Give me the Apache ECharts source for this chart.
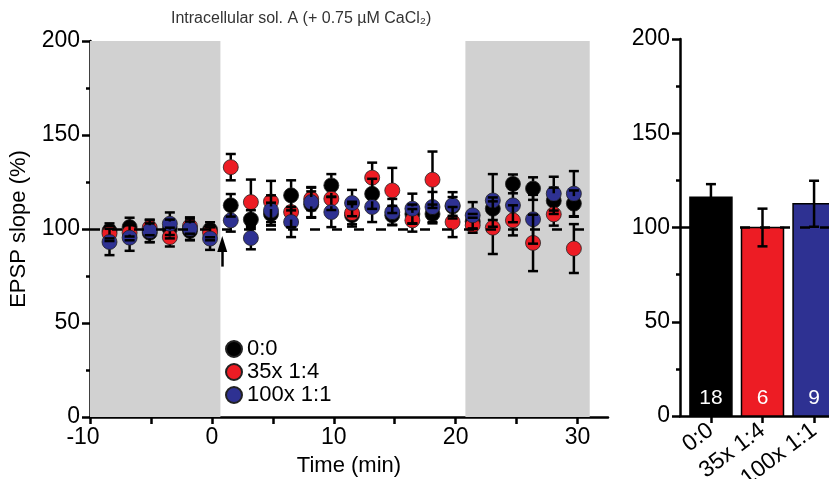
<!DOCTYPE html>
<html>
<head>
<meta charset="utf-8">
<script src="https://cdn.jsdelivr.net/npm/echarts@6/dist/echarts.min.js"></script>
<style>
  html, body { margin: 0; padding: 0; background: #fff; }
  #chart { width: 829px; height: 479px; }
</style>
</head>
<body>
<div id="chart"></div>
<script>
// time points (min)
var times = [-8.4, -6.75, -5.1, -3.45, -1.8, -0.15, 1.55, 3.2, 4.85, 6.5, 8.15, 9.8,
             11.5, 13.15, 14.8, 16.45, 18.1, 19.75, 21.4, 23.05, 24.7, 26.35, 28.05, 29.7];

// EPSP slope (%) per group, mean and SEM
var ctrl     = [99, 101, 98, 100, 99, 99.6, 112.6, 105, 108, 117.9, 113, 123.2,
                107.3, 118.7, 107.3, 108, 108, 112, 104, 110.8, 124, 121.5, 115, 113.5];
var ctrlErr  = [4, 5, 5, 5, 5, 4, 6, 5, 6, 8, 7, 6, 6, 8, 5, 5, 5, 5, 4, 6, 5, 6, 7, 7];
var mix14    = [97.6, 98, 100.7, 95.7, 101.5, 98, 132.9, 114.3, 114.6, 109, 116, 116.1,
                108.5, 127.3, 120.5, 104.6, 126.2, 103.7, 102, 100.7, 104.6, 92.6, 107.8, 89.6];
var mix14Err = [4, 4, 4, 5, 4, 4, 7, 12, 11, 8, 6, 6, 6, 8, 12, 6, 15, 8, 4, 14, 8, 15, 6, 13];
var mix11    = [93.1, 95.4, 99, 102.8, 100.2, 94.9, 104.6, 95.2, 109.9, 103.7, 114.3, 109,
                113.8, 111.7, 109, 110.8, 111.7, 112.6, 107.3, 115.2, 112.6, 105.2, 118.8, 118.8];
var mix11Err = [7, 7, 6, 6, 6, 6, 6, 6, 8, 8, 8, 8, 7, 8, 7, 8, 8, 7, 7, 14, 9, 13, 9, 12];

// summary bars
var groups   = ['0:0', '35x 1:4', '100x 1:1'];
var barMean  = [116, 100, 112.6];
var barErr   = [7, 10, 12.2];
var nCells   = ['18', '6', '9'];

var colors = ['#000000', '#ed1c24', '#2e3192'];
var FONT = 'Liberation Sans, Arial, sans-serif';

function pts(ys) { return times.map(function (t, i) { return [t, ys[i]]; }); }
function errPts(ys, es) { return times.map(function (t, i) { return [t, ys[i], es[i]]; }); }

function lineEl(s) {
    return {type: 'line', shape: s, style: {stroke: '#000', lineWidth: 2.5}};
}

var R = 7.5;
// error bars that start at the symbol edge
function renderErr(params, api) {
    var t = api.value(0), m = api.value(1), e = api.value(2);
    var c = api.coord([t, m]);
    var top = api.coord([t, m + e]);
    var bot = api.coord([t, m - e]);
    var hw = 5;
    var shapes = [];
    if (c[1] - R > top[1]) shapes.push({x1: c[0], y1: c[1] - R, x2: c[0], y2: top[1]});
    shapes.push({x1: c[0] - hw, y1: top[1], x2: c[0] + hw, y2: top[1]});
    if (c[1] + R < bot[1]) shapes.push({x1: c[0], y1: c[1] + R, x2: c[0], y2: bot[1]});
    shapes.push({x1: c[0] - hw, y1: bot[1], x2: c[0] + hw, y2: bot[1]});
    return {type: 'group', children: shapes.map(lineEl)};
}

function renderBar(params, api) {
    var i = api.value(0), v = api.value(1);
    var base = api.coord([i, 0]);
    var top = api.coord([i, v]);
    var w = 42;
    return {
        type: 'group',
        children: [
            {type: 'rect',
             shape: {x: base[0] - w / 2, y: top[1], width: w, height: base[1] - top[1]},
             style: {fill: colors[i], stroke: '#000', lineWidth: 1.5}},
            {type: 'text', x: base[0], y: base[1] - 7,
             style: {text: nCells[i], fill: '#fff', fontSize: 21, fontFamily: FONT,
                     align: 'center', verticalAlign: 'bottom'}}
        ]
    };
}

function renderBarErr(params, api) {
    var x = api.value(0), m = api.value(1), e = api.value(2);
    var top = api.coord([x, m + e]);
    var bot = api.coord([x, m - e]);
    var hw = 5;
    return {
        type: 'group',
        children: [
            {x1: top[0], y1: top[1], x2: bot[0], y2: bot[1]},
            {x1: top[0] - hw, y1: top[1], x2: top[0] + hw, y2: top[1]},
            {x1: bot[0] - hw, y1: bot[1], x2: bot[0] + hw, y2: bot[1]}
        ].map(lineEl)
    };
}

var axisLine = {onZero: false, lineStyle: {color: '#000', width: 2.5}};
var labelStyle = {color: '#000', fontSize: 22, fontFamily: FONT};
var tickLabel = {color: '#000', fontSize: 23, fontFamily: FONT};

var option = {
    animation: false,
    backgroundColor: '#fff',
    textStyle: {fontFamily: FONT},
    title: {
        text: 'Intracellular sol. A (+ 0.75 µM CaCl₂)',
        left: 166,
        top: 6,
        textStyle: {fontSize: 16, fontWeight: 'normal', color: '#333', fontFamily: FONT}
    },
    legend: {
        data: groups,
        orient: 'vertical',
        left: 220,
        top: 333,
        icon: 'circle',
        itemWidth: 16,
        itemHeight: 16,
        itemGap: 1,
        textStyle: {fontSize: 22, color: '#000', fontFamily: FONT}
    },
    grid: [
        {left: 90, top: 41, width: 518, height: 376, outerBoundsMode: 'none'},
        {left: 680, top: 39, width: 165, height: 377, outerBoundsMode: 'none'}
    ],
    xAxis: [
        {
            gridIndex: 0, type: 'value', min: -10, max: 32.5,
            name: 'Time (min)', nameLocation: 'middle', nameGap: 38,
            nameTextStyle: labelStyle,
            splitLine: {show: false},
            axisLine: axisLine,
            axisTick: {length: 7, lineStyle: {width: 2.5, color: '#000'},
                       customValues: [-10, -5, 0, 5, 10, 15, 20, 25, 30]},
            axisLabel: Object.assign({
                margin: 9, customValues: [-10, 0, 10, 20, 30],
                formatter: function (v) { return v < 0 ? '{neg|' + v + '}' : String(v); },
                rich: {neg: {fontSize: 23, fontFamily: FONT, color: '#000', padding: [0, 14, 0, 0]}}
            }, tickLabel)
        },
        {
            gridIndex: 1, type: 'value', min: -0.6, max: 2.6,
            splitLine: {show: false},
            axisLine: axisLine,
            axisTick: {length: 7, lineStyle: {width: 2.5, color: '#000'}, customValues: [0, 1, 2]},
            axisLabel: Object.assign({
                margin: 12, rotate: 37, customValues: [0, 1, 2],
                formatter: function (v) { return groups[Math.round(v)]; }
            }, tickLabel)
        }
    ],
    yAxis: [
        {
            gridIndex: 0, type: 'value', min: 0, max: 200, interval: 50,
            name: 'EPSP slope (%)', nameLocation: 'middle', nameGap: 60,
            nameTextStyle: labelStyle,
            splitLine: {show: false},
            axisLine: axisLine,
            axisTick: {length: 8, lineStyle: {width: 2.5, color: '#000'}},
            minorTick: {show: true, splitNumber: 2, length: 4, lineStyle: {width: 2.5, color: '#000'}},
            axisLabel: Object.assign({margin: 10}, tickLabel)
        },
        {
            gridIndex: 1, type: 'value', min: 0, max: 200, interval: 50,
            splitLine: {show: false},
            axisLine: axisLine,
            axisTick: {length: 8, lineStyle: {width: 2.5, color: '#000'}},
            minorTick: {show: true, splitNumber: 2, length: 4, lineStyle: {width: 2.5, color: '#000'}},
            axisLabel: Object.assign({margin: 10}, tickLabel)
        }
    ],
    series: [
        {
            // baseline / washout shading, 100 % line and application arrow
            type: 'line', xAxisIndex: 0, yAxisIndex: 0, data: [], z: 1,
            markArea: {
                silent: true,
                itemStyle: {color: '#d1d1d1'},
                data: [
                    [{coord: [-10, 0]}, {coord: [0.7, 200]}],
                    [{coord: [20.8, 0]}, {coord: [31, 200]}]
                ]
            },
            markLine: {
                silent: true,
                label: {show: false},
                data: [
                    [{coord: [-10, 100], symbol: 'none'},
                     {coord: [30.8, 100], symbol: 'none'}],
                    [{coord: [0.85, 80], symbol: 'none',
                      lineStyle: {type: 'solid', width: 2.5, color: '#000'}},
                     {coord: [0.85, 92], symbol: 'triangle', symbolSize: [10, 16]}]
                ],
                lineStyle: {type: [10, 12], width: 2.5, color: '#000'}
            }
        },
        {name: groups[0], type: 'scatter', xAxisIndex: 0, yAxisIndex: 0, z: 2,
         symbolSize: 15, data: pts(ctrl),
         itemStyle: {color: colors[0], borderColor: '#222', borderWidth: 0.8, opacity: 1}},
        {name: groups[1], type: 'scatter', xAxisIndex: 0, yAxisIndex: 0, z: 2,
         symbolSize: 15, data: pts(mix14),
         itemStyle: {color: colors[1], borderColor: '#222', borderWidth: 0.8, opacity: 1}},
        {name: groups[2], type: 'scatter', xAxisIndex: 0, yAxisIndex: 0, z: 2,
         symbolSize: 15, data: pts(mix11),
         itemStyle: {color: colors[2], borderColor: '#222', borderWidth: 0.8, opacity: 1}},
        {type: 'custom', xAxisIndex: 0, yAxisIndex: 0, z: 3, renderItem: renderErr,
         encode: {x: 0, y: 1}, data: errPts(ctrl, ctrlErr)},
        {type: 'custom', xAxisIndex: 0, yAxisIndex: 0, z: 3, renderItem: renderErr,
         encode: {x: 0, y: 1}, data: errPts(mix14, mix14Err)},
        {type: 'custom', xAxisIndex: 0, yAxisIndex: 0, z: 3, renderItem: renderErr,
         encode: {x: 0, y: 1}, data: errPts(mix11, mix11Err)},
        {type: 'custom', xAxisIndex: 1, yAxisIndex: 1, z: 2, renderItem: renderBar,
         encode: {x: 0, y: 1},
         data: barMean.map(function (v, i) { return [i, v]; })},
        {
            type: 'line', xAxisIndex: 1, yAxisIndex: 1, data: [], z: 3,
            markLine: {
                silent: true, symbol: 'none', label: {show: false},
                lineStyle: {type: [10, 10], width: 2.5, color: '#000'},
                data: [{yAxis: 100}]
            }
        },
        {type: 'custom', xAxisIndex: 1, yAxisIndex: 1, z: 4, renderItem: renderBarErr,
         encode: {x: 0, y: 1},
         data: barMean.map(function (v, i) { return [i, v, barErr[i]]; })}
    ]
};

var myChart = echarts.init(document.getElementById('chart'));
myChart.setOption(option);
</script>
</body>
</html>
